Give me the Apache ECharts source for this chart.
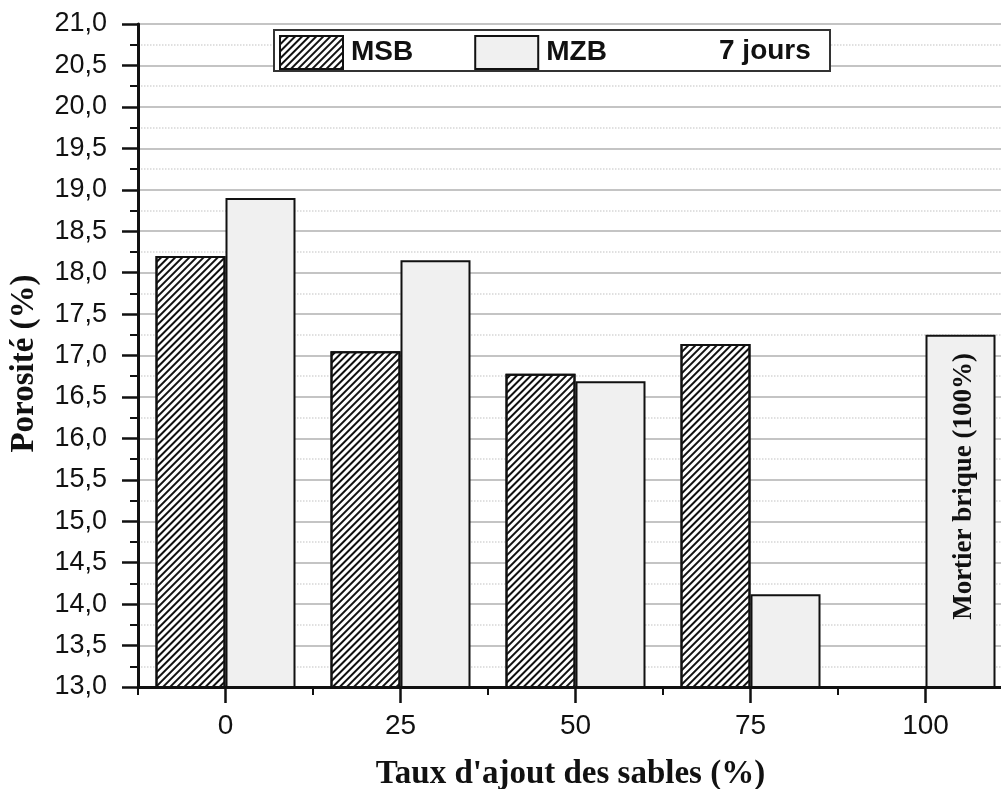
<!DOCTYPE html>
<html>
<head>
<meta charset="utf-8">
<script src="https://cdn.jsdelivr.net/npm/echarts@6/dist/echarts.min.js"></script>
<style>
html,body{margin:0;padding:0;background:#fff;overflow:hidden;}
#wrap{width:1001px;height:789px;overflow:hidden;position:relative;}
#chart{position:absolute;left:0;top:0;width:1030px;height:789px;}
</style>
</head>
<body>
<div id="wrap"><div id="chart"></div></div>
<script>
// ---- data ----
const categories = ['0', '25', '50', '75', '100'];
const msbValues = [18.2, 17.05, 16.78, 17.14, null];
const mzbValues = [18.9, 18.15, 16.69, 14.12, 17.25];
const seriesNames = ['MSB', 'MZB'];
const ageLabel = '7 jours';
const brickLabel = 'Mortier brique (100%)';
const brickIndex = 4;
const xTitle = "Taux d'ajout des sables (%)";
const yTitle = 'Porosité (%)';
const yMin = 13, yMax = 21, yStep = 0.5;

const SANS = '"Liberation Sans", Arial, sans-serif';
const SERIF = '"Liberation Serif", "Times New Roman", serif';

const chart = echarts.init(document.getElementById('chart'), null, {renderer: 'canvas', width: 1030, height: 789});

const mzbData = mzbValues.map((v, i) => i === brickIndex ? {
  value: v,
  label: {
    show: true, position: 'inside', rotate: 90, formatter: brickLabel,
    fontFamily: SERIF, fontWeight: 'bold', fontSize: 27, color: '#111',
    offset: [25, 4]
  }
} : v);

const option = {
  animation: false,
  backgroundColor: '#fff',
  grid: {left: 138, top: 24, width: 875, height: 663, outerBoundsMode: 'none', containLabel: false,
    show: true, borderColor: '#111', borderWidth: 2, backgroundColor: 'transparent'},
  legend: {
    data: seriesNames,
    left: 279, top: 35, padding: 0,
    itemWidth: 63, itemHeight: 33, itemGap: 61,
    icon: 'rect',
    z: 6,
    textStyle: {fontFamily: SANS, fontWeight: 'bold', fontSize: 28, color: '#111', padding: [0, 0, 0, 3]}
  },
  graphic: [
    {type: 'rect', z: 4, shape: {x: 274, y: 30, width: 556, height: 41}, style: {fill: '#fff', stroke: '#333', lineWidth: 2}},
    {type: 'text', z: 6, left: 719, top: 37, style: {text: ageLabel, font: 'bold 28px ' + SANS, fill: '#111'}}
  ],
  xAxis: [{
    type: 'category', data: categories, position: 'bottom',
    axisLine: {show: true, lineStyle: {color: '#111', width: 3}},
    axisTick: {show: true, alignWithLabel: true, length: 16, lineStyle: {color: '#111', width: 2.5}},
    axisLabel: {fontFamily: SANS, fontSize: 28, color: '#111', margin: 25},
    splitLine: {show: false},
    name: xTitle, nameLocation: 'middle', nameGap: 71,
    nameTextStyle: {fontFamily: SERIF, fontWeight: 'bold', fontSize: 33, color: '#111', padding: [0, 10, 0, 0]}
  }, {
    type: 'category', data: categories, position: 'bottom',
    axisLine: {show: false},
    axisTick: {show: true, alignWithLabel: false, length: 8, lineStyle: {color: '#111', width: 2}},
    axisLabel: {show: false},
    splitLine: {show: false}
  }],
  yAxis: {
    type: 'value', min: yMin, max: yMax, interval: yStep,
    axisLine: {show: true, lineStyle: {color: '#111', width: 3}},
    axisTick: {show: true, length: 16, lineStyle: {color: '#111', width: 2.5}},
    minorTick: {show: true, splitNumber: 2, length: 8, lineStyle: {color: '#111', width: 2}},
    axisLabel: {fontFamily: SANS, fontSize: 27, color: '#111', margin: 31,
      formatter: v => v.toFixed(1).replace('.', ',')},
    splitLine: {show: true, lineStyle: {color: '#c4c4c4', width: 2}},
    minorSplitLine: {show: true, lineStyle: {color: '#d6d6d6', width: 1.5, type: 'dotted'}},
    name: yTitle, nameLocation: 'middle', nameGap: 97,
    nameTextStyle: {fontFamily: SERIF, fontWeight: 'bold', fontSize: 33, color: '#111', padding: [0, 16, 0, 0]}
  },
  series: [{
    name: seriesNames[0], type: 'bar', xAxisIndex: 0, data: msbValues,
    barGap: '0%', barCategoryGap: '20%',
    itemStyle: {color: '#fff', borderColor: '#111', borderWidth: 2,
      decal: {symbol: 'rect', symbolSize: 1, dashArrayX: [1, 0], dashArrayY: [2, 3], rotation: -Math.PI / 4, color: '#111'}}
  }, {
    name: seriesNames[1], type: 'bar', xAxisIndex: 0, data: mzbData,
    barGap: '0%', barCategoryGap: '20%',
    itemStyle: {color: '#f0f0f0', borderColor: '#111', borderWidth: 2}
  }]
};
chart.setOption(option);
</script>
</body>
</html>
